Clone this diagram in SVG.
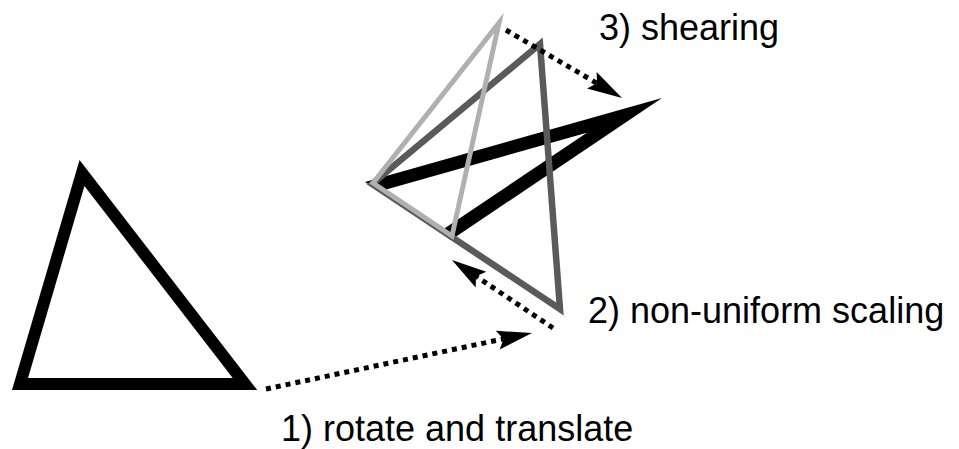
<svg xmlns="http://www.w3.org/2000/svg" width="959" height="449" viewBox="0 0 959 449">
<style>
  .lbl { font-family: "Liberation Sans", Arial, sans-serif; font-size: 36px; fill: #000; }
  .tri { fill: none; stroke-linejoin: miter; stroke-miterlimit: 10; }
  .dash { fill: none; stroke: #000; stroke-width: 5; stroke-dasharray: 5 5; marker-end: url(#head); }
</style>
<defs>
  <marker id="head" markerUnits="userSpaceOnUse" viewBox="-36 -10 37 20" refX="-29" refY="0" markerWidth="37" markerHeight="20" orient="auto" overflow="visible">
    <path d="M0,0 L-35,-9.5 L-29,0 L-35,9.5 Z" fill="#000"/>
  </marker>
</defs>
<rect width="959" height="449" fill="#fff"/>
<g id="original">
  <polygon class="tri" points="82,173 20,384 245,384" stroke="#000" stroke-width="12"/>
</g>
<g id="sheared">
  <path d="M365,182 L662,98 L451,240 Z M385.3,189.7 L586.9,132.8 L443.7,229 Z" fill="#000" fill-rule="evenodd"/>
</g>
<g id="rotated">
  <polygon class="tri" points="372,184 540,44 560,309" stroke="#5a5a5a" stroke-width="6.5"/>
</g>
<g id="scaled">
  <polygon class="tri" points="373,183 499,23 452,236" stroke="#b0b0b0" stroke-width="5"/>
</g>
<g id="connectors">
  <path class="dash" d="M266,389 L503.6,338.9"/>
  <path class="dash" d="M553,328 L476,276.2"/>
  <path class="dash" d="M506,30 L597,83.3"/>
</g>
<g id="labels">
  <text class="lbl" x="599" y="40">3) shearing</text>
  <text class="lbl" x="588" y="323">2) non-uniform scaling</text>
  <text class="lbl" x="281" y="441">1) rotate and translate</text>
</g>
</svg>
